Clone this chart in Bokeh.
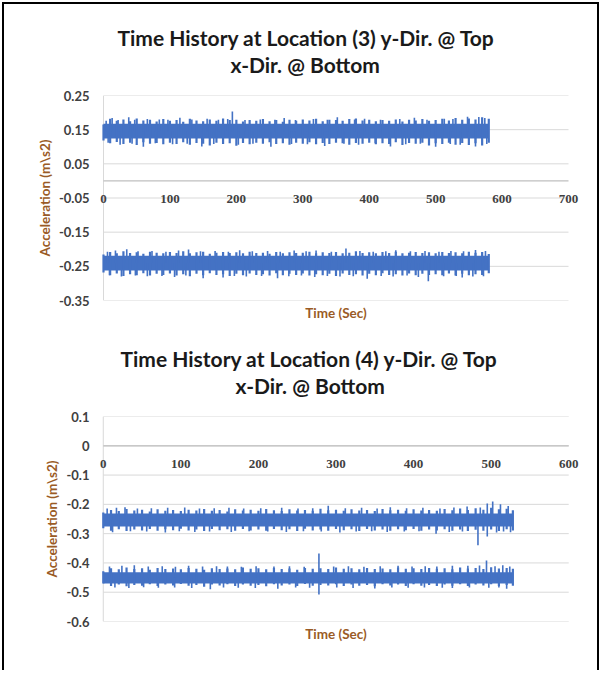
import numpy as np
from bokeh.plotting import figure
from bokeh.layouts import column
from bokeh.models import (Range1d, FixedTicker, PrintfTickFormatter, CustomJSTickFormatter,
                          Title, LabelSet, ColumnDataSource)
from bokeh.embed import file_html
from bokeh.resources import INLINE

# ---------------- data: chart 1, Location (3) ----------------
t1 = list(range(0, 581, 10))
A1_core = [0.124, 0.167]
A1_hi = [0.165, 0.182, 0.176, 0.180, 0.175, 0.183, 0.177, 0.179, 0.174, 0.181,
         0.176, 0.178, 0.173, 0.182, 0.177, 0.175, 0.180, 0.176, 0.183, 0.178,
         0.179, 0.174, 0.178, 0.176, 0.181, 0.175, 0.178, 0.173, 0.179, 0.176,
         0.180, 0.177, 0.182, 0.175, 0.179, 0.178, 0.176, 0.181, 0.183, 0.177,
         0.179, 0.175, 0.178, 0.176, 0.180, 0.174, 0.179, 0.177, 0.181, 0.176,
         0.178, 0.182, 0.177, 0.184, 0.179, 0.183, 0.180, 0.186, 0.182]
A1_lo = [0.118, 0.110, 0.114, 0.108, 0.112, 0.105, 0.113, 0.109, 0.111, 0.107,
         0.112, 0.108, 0.113, 0.106, 0.111, 0.109, 0.104, 0.112, 0.108, 0.110,
         0.103, 0.111, 0.107, 0.112, 0.109, 0.113, 0.108, 0.110, 0.106, 0.112,
         0.109, 0.113, 0.107, 0.111, 0.108, 0.112, 0.110, 0.106, 0.111, 0.109,
         0.112, 0.107, 0.110, 0.108, 0.113, 0.105, 0.111, 0.109, 0.112, 0.104,
         0.110, 0.108, 0.112, 0.106, 0.111, 0.105, 0.110, 0.104, 0.112]
A1_spike_t = [4, 13, 22, 38, 47, 66, 84, 97, 115, 133, 156, 173, 187, 194, 213, 236,
              258, 272, 289, 316, 337, 352, 378, 393, 417, 446, 468, 487, 513, 526,
              548, 565, 574,
              7, 25, 43, 60, 78, 104, 126, 148, 166, 203, 225, 252, 283, 307, 333,
              362, 384, 409, 432, 455, 477, 500, 522, 537, 560, 577]
A1_spike_y = [0.176, 0.184, 0.178, 0.186, 0.179, 0.181, 0.180, 0.179, 0.185, 0.180,
              0.182, 0.179, 0.181, 0.203, 0.178, 0.180, 0.179, 0.184, 0.178, 0.181,
              0.179, 0.186, 0.180, 0.182, 0.179, 0.181, 0.185, 0.179, 0.182, 0.181,
              0.188, 0.187, 0.184,
              0.112, 0.106, 0.109, 0.100, 0.110, 0.107, 0.109, 0.101, 0.108, 0.106,
              0.109, 0.100, 0.108, 0.107, 0.102, 0.109, 0.106, 0.110, 0.101, 0.107,
              0.109, 0.100, 0.108, 0.106, 0.101, 0.108]

A2_core = [-0.262, -0.219]
A2_hi = [-0.215, -0.208, -0.212, -0.206, -0.211, -0.209, -0.213, -0.207, -0.210, -0.212,
         -0.208, -0.211, -0.206, -0.212, -0.209, -0.207, -0.213, -0.210, -0.208, -0.211,
         -0.209, -0.212, -0.207, -0.211, -0.210, -0.213, -0.208, -0.212, -0.209, -0.211,
         -0.210, -0.207, -0.212, -0.209, -0.211, -0.208, -0.212, -0.210, -0.206, -0.211,
         -0.209, -0.212, -0.208, -0.211, -0.207, -0.212, -0.210, -0.208, -0.211, -0.209,
         -0.212, -0.208, -0.211, -0.209, -0.212, -0.207, -0.210, -0.208, -0.214]
A2_lo = [-0.268, -0.276, -0.271, -0.278, -0.273, -0.276, -0.270, -0.277, -0.272, -0.275,
         -0.271, -0.277, -0.273, -0.279, -0.272, -0.276, -0.270, -0.275, -0.273, -0.278,
         -0.272, -0.276, -0.271, -0.275, -0.273, -0.277, -0.270, -0.276, -0.272, -0.275,
         -0.271, -0.277, -0.273, -0.276, -0.272, -0.278, -0.271, -0.275, -0.273, -0.277,
         -0.272, -0.276, -0.270, -0.275, -0.273, -0.277, -0.271, -0.276, -0.272, -0.275,
         -0.273, -0.276, -0.271, -0.277, -0.272, -0.276, -0.273, -0.275, -0.270]
A2_spike_t = [6, 18, 35, 52, 73, 94, 113, 128, 146, 168, 188, 205, 224, 247, 266, 287,
              305, 320, 343, 365, 386, 406, 425, 440, 462, 484, 505, 523, 542, 560, 575,
              9, 27, 48, 66, 88, 107, 124, 150, 180, 197, 215, 238, 262, 279, 298, 318,
              337, 356, 376, 397, 418, 436, 457, 474, 489, 512, 531, 540, 556, 572]
A2_spike_y = [-0.207, -0.204, -0.200, -0.206, -0.205, -0.207, -0.204, -0.201, -0.206, -0.205,
              -0.207, -0.203, -0.206, -0.205, -0.207, -0.204, -0.206, -0.204, -0.207, -0.198,
              -0.205, -0.207, -0.206, -0.203, -0.206, -0.205, -0.207, -0.205, -0.206, -0.202,
              -0.205,
              -0.276, -0.280, -0.277, -0.279, -0.278, -0.281, -0.277, -0.285, -0.283, -0.278,
              -0.280, -0.278, -0.285, -0.279, -0.277, -0.281, -0.278, -0.280, -0.279, -0.286,
              -0.278, -0.280, -0.277, -0.281, -0.294, -0.279, -0.278, -0.283, -0.280, -0.279]

x1_ticks = [0, 100, 200, 300, 400, 500, 600, 700]
y1_ticks = [0.25, 0.15, 0.05, -0.05, -0.15, -0.25, -0.35]

# ---------------- data: chart 2, Location (4) ----------------
t2 = list(range(0, 521, 10)) + [528]
B1_core = [-0.276, -0.231]
B1_hi = [-0.228, -0.219, -0.223, -0.216, -0.221, -0.218, -0.224, -0.217, -0.222, -0.219,
         -0.223, -0.218, -0.221, -0.216, -0.222, -0.219, -0.224, -0.217, -0.221, -0.218,
         -0.222, -0.216, -0.220, -0.223, -0.217, -0.221, -0.219, -0.222, -0.215, -0.220,
         -0.218, -0.222, -0.217, -0.221, -0.219, -0.223, -0.216, -0.220, -0.218, -0.222,
         -0.217, -0.221, -0.219, -0.222, -0.216, -0.220, -0.214, -0.219, -0.213, -0.218,
         -0.212, -0.217, -0.215, -0.220]
B1_lo = [-0.282, -0.290, -0.285, -0.291, -0.286, -0.289, -0.284, -0.290, -0.285, -0.288,
         -0.283, -0.289, -0.286, -0.291, -0.284, -0.288, -0.285, -0.290, -0.284, -0.289,
         -0.286, -0.290, -0.284, -0.288, -0.285, -0.291, -0.283, -0.289, -0.286, -0.290,
         -0.284, -0.288, -0.285, -0.291, -0.284, -0.289, -0.286, -0.290, -0.285, -0.288,
         -0.284, -0.290, -0.286, -0.289, -0.285, -0.290, -0.286, -0.291, -0.287, -0.290,
         -0.286, -0.291, -0.285, -0.289]
B1_spike_t = [5, 17, 28, 44, 62, 83, 105, 124, 143, 162, 181, 203, 230, 251, 270, 290,
              312, 333, 353, 370, 391, 412, 434, 452, 469, 486, 495, 502, 512, 522,
              12, 35, 56, 80, 98, 118, 137, 165, 188, 212, 236, 258, 281, 305, 326, 346,
              366, 388, 407, 429, 446, 463, 483, 495, 507, 516, 525]
B1_spike_y = [-0.214, -0.212, -0.210, -0.214, -0.213, -0.212, -0.211, -0.214, -0.213, -0.212,
              -0.214, -0.213, -0.212, -0.214, -0.213, -0.205, -0.213, -0.212, -0.214, -0.210,
              -0.213, -0.212, -0.214, -0.211, -0.207, -0.211, -0.197, -0.190, -0.200, -0.206,
              -0.295, -0.292, -0.293, -0.296, -0.292, -0.294, -0.293, -0.294, -0.292, -0.293,
              -0.294, -0.292, -0.293, -0.296, -0.293, -0.292, -0.294, -0.293, -0.292, -0.300,
              -0.294, -0.293, -0.340, -0.310, -0.296, -0.293, -0.295]

B2_core = [-0.470, -0.432]
B2_hi = [-0.428, -0.418, -0.422, -0.416, -0.421, -0.418, -0.423, -0.417, -0.421, -0.419,
         -0.422, -0.417, -0.420, -0.423, -0.418, -0.421, -0.419, -0.422, -0.416, -0.420,
         -0.418, -0.422, -0.417, -0.421, -0.419, -0.423, -0.417, -0.420, -0.418, -0.421,
         -0.416, -0.420, -0.418, -0.422, -0.417, -0.421, -0.419, -0.422, -0.416, -0.420,
         -0.418, -0.421, -0.417, -0.420, -0.418, -0.422, -0.416, -0.419, -0.417, -0.421,
         -0.415, -0.419, -0.417, -0.420]
B2_lo = [-0.470, -0.479, -0.474, -0.480, -0.475, -0.478, -0.473, -0.479, -0.474, -0.477,
         -0.472, -0.478, -0.475, -0.481, -0.474, -0.477, -0.473, -0.479, -0.474, -0.478,
         -0.475, -0.480, -0.473, -0.477, -0.474, -0.479, -0.472, -0.478, -0.475, -0.477,
         -0.473, -0.479, -0.474, -0.478, -0.475, -0.480, -0.473, -0.477, -0.474, -0.479,
         -0.473, -0.478, -0.475, -0.479, -0.474, -0.478, -0.473, -0.479, -0.474, -0.477,
         -0.473, -0.479, -0.475, -0.478]
B2_spike_t = [8, 24, 40, 58, 76, 93, 110, 128, 146, 160, 178, 197, 220, 240, 259, 278,
              297, 316, 336, 357, 380, 398, 415, 430, 450, 470, 485, 494, 505, 515, 524,
              15, 33, 52, 71, 92, 114, 138, 155, 174, 196, 225, 248, 266, 278, 301, 322,
              350, 372, 393, 414, 437, 450, 472, 497, 510, 520]
B2_spike_y = [-0.412, -0.410, -0.408, -0.412, -0.411, -0.413, -0.410, -0.412, -0.411, -0.412,
              -0.413, -0.411, -0.412, -0.411, -0.413, -0.368, -0.412, -0.411, -0.413, -0.411,
              -0.410, -0.412, -0.411, -0.412, -0.410, -0.410, -0.409, -0.392, -0.411, -0.408,
              -0.412,
              -0.484, -0.486, -0.483, -0.485, -0.484, -0.486, -0.490, -0.484, -0.485, -0.486,
              -0.488, -0.484, -0.485, -0.508, -0.484, -0.486, -0.487, -0.484, -0.485, -0.484,
              -0.485, -0.486, -0.484, -0.485, -0.484, -0.488]

x2_ticks = [0, 100, 200, 300, 400, 500, 600]
y2_ticks = [0.1, 0, -0.1, -0.2, -0.3, -0.4, -0.5, -0.6]

BLUE = "#4472C4"
BROWN = "#9A5B26"
TICK = "#404040"
FONT = "Lato"
PAD = 14  # px of extra frame on each side so edge tick labels are not clipped


def build(title1, title2, t, bands, xticks, yticks, yfmt, height, plot_px,
          mb_left, mb_right, mb_top, mb_bottom, off1, off2):
    x0, x1 = xticks[0], xticks[-1]
    padu = PAD * (x1 - x0) / plot_px
    p = figure(width=593, height=height, title=None,
               x_range=Range1d(x0 - padu, x1 + padu), y_range=Range1d(yticks[-1], yticks[0]),
               output_backend="svg", toolbar_location=None,
               min_border_left=mb_left - PAD, min_border_right=mb_right - PAD,
               min_border_top=mb_top, min_border_bottom=mb_bottom,
               outline_line_color=None, background_fill_color="white",
               border_fill_color="white")
    p.xgrid.visible = False
    p.ygrid.visible = False
    p.xaxis.visible = False

    ya = p.yaxis[0]
    ya.ticker = FixedTicker(ticks=yticks)
    ya.formatter = yfmt
    ya.axis_line_color = None
    ya.major_tick_line_color = None
    ya.minor_tick_line_color = None
    ya.major_tick_out = 0
    ya.major_tick_in = 0
    ya.major_label_standoff = 0
    ya.major_label_text_font = FONT
    ya.major_label_text_font_style = "bold"
    ya.major_label_text_font_size = "13px"
    ya.major_label_text_color = TICK
    ya.axis_label = "Acceleration (m\\s2)"
    ya.axis_label_text_font = FONT
    ya.axis_label_text_font_style = "bold"
    ya.axis_label_text_font_size = "13.5px"
    ya.axis_label_text_color = BROWN
    ya.axis_label_standoff = 3

    # horizontal gridlines, y axis line and the x axis line at zero
    n = len(yticks)
    p.segment(x0=[x0] * n, y0=yticks, x1=[x1] * n, y1=yticks,
              line_color="#d9d9d9", line_width=1)
    p.segment(x0=[x0], y0=[yticks[-1]], x1=[x0], y1=[yticks[0]],
              line_color="#d9d9d9", line_width=1)
    p.segment(x0=[x0], y0=[0], x1=[x1], y1=[0], line_color="#bfbfbf", line_width=1.2)

    xlab = ColumnDataSource(data=dict(x=xticks, y=[0] * len(xticks),
                                      text=[str(v) for v in xticks]))
    p.add_layout(LabelSet(x="x", y="y", text="text", source=xlab, y_offset=-18,
                          text_align="center", text_baseline="middle",
                          text_font=FONT, text_font_style="bold",
                          text_font_size="13px", text_color=TICK))

    for core, hi, lo, st, sy in bands:
        m = len(t)
        p.varea(x=t, y1=[core[0]] * m, y2=[core[1]] * m, fill_color=BLUE)
        mid = (core[0] + core[1]) / 2.0
        p.segment(x0=t, y0=lo, x1=t, y1=hi, line_color=BLUE, line_width=2.2)
        p.segment(x0=st, y0=[mid] * len(st), x1=st, y1=sy, line_color=BLUE, line_width=1.6)

    p.add_layout(Title(text="Time (Sec)", align="center", text_font=FONT,
                       text_font_style="bold", text_font_size="13.5px",
                       text_color=BROWN, standoff=4), "below")
    # titles stack outward from the frame: spacer, second line, first line
    p.add_layout(Title(text=" ", text_font_size="1px", standoff=16), "above")
    p.add_layout(Title(text=title2, align="left", offset=off2 + PAD, text_font=FONT,
                       text_font_style="bold", text_font_size="21px",
                       text_color="#1a1a1a", standoff=0), "above")
    p.add_layout(Title(text=title1, align="left", offset=off1 + PAD, text_font=FONT,
                       text_font_style="bold", text_font_size="21px",
                       text_color="#1a1a1a", standoff=0), "above")
    return p


fmt1 = PrintfTickFormatter(format="%.2f")
fmt2 = CustomJSTickFormatter(code="return (Math.round(tick * 10) / 10).toString();")

p1 = build("Time History at Location (3) y-Dir. @ Top", "x-Dir. @ Bottom", t1,
           [(A1_core, A1_hi, A1_lo, A1_spike_t, A1_spike_y),
            (A2_core, A2_hi, A2_lo, A2_spike_t, A2_spike_y)],
           x1_ticks, y1_ticks, fmt1, 325, 465,
           99, 29, 91, 29, 14, 127)
p2 = build("Time History at Location (4) y-Dir. @ Top", "x-Dir. @ Bottom", t2,
           [(B1_core, B1_hi, B1_lo, B1_spike_t, B1_spike_y),
            (B2_core, B2_hi, B2_lo, B2_spike_t, B2_spike_y)],
           x2_ticks, y2_ticks, fmt2, 341, 473,
           94, 26, 87, 49, 17, 132)

layout = column(p1, p2, spacing=0,
                styles={"margin-left": "2px", "margin-top": "2px",
                        "border-left": "2px solid #000", "border-top": "2px solid #000",
                        "border-right": "2px solid #000"})

open("out.html", "w").write(file_html(layout, INLINE))
